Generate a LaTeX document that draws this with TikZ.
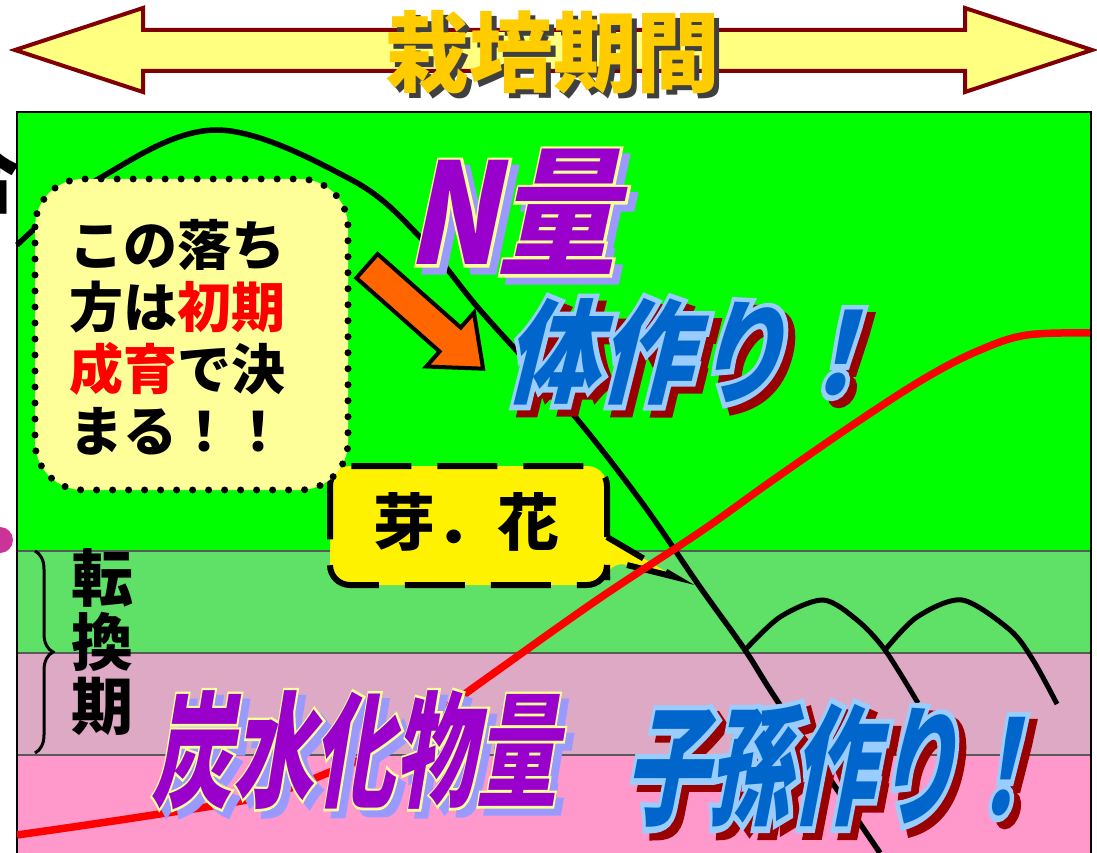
\documentclass[tikz,border=0pt]{standalone}
\usepackage{fontspec}
\newfontfamily\jpfont{Noto Sans CJK JP}
\newfontfamily\jpwide{Noto Sans CJK JP}[FakeBold=9,BoldFeatures={FakeBold=9}]
\newfontfamily\jpslim{Noto Sans CJK JP}[FakeBold=4,BoldFeatures={FakeBold=4}]
\usetikzlibrary{calc,decorations.pathreplacing}

\definecolor{leaf}{HTML}{00FF00}
\definecolor{paleleaf}{HTML}{5FE066}
\definecolor{mauve}{HTML}{DDA9C5}
\definecolor{blossom}{HTML}{FF99CC}
\definecolor{cream}{HTML}{FFFF99}
\definecolor{lemon}{HTML}{FFFF80}
\definecolor{maroon}{HTML}{800000}
\definecolor{gold}{HTML}{FFCC00}
\definecolor{violet}{HTML}{9900CC}
\definecolor{lilac}{HTML}{9999FF}
\definecolor{rim}{HTML}{FFFF99}
\definecolor{ocean}{HTML}{0066CC}
\definecolor{sky}{HTML}{99CCFF}
\definecolor{wine}{HTML}{990000}
\definecolor{carrot}{HTML}{FF6600}
\definecolor{orchid}{HTML}{CC3399}

\tikzset{
  word/.style={inner sep=0pt,font=\jpfont\bfseries\fontsize{#1}{#1}\selectfont},
  notetext/.style={inner sep=0pt,align=left,font=\jpfont\bfseries\fontsize{54}{62}\selectfont},
  band/.style={draw=black!65,line width=1.2pt},
}

% #1 name, #2 place, #3 size, #4 slant, #5 fill, #6 rim, #7 shadow, #8 rim font, #9 text
\newcommand\fancyword[9]{%
  \node[inner sep=0pt,#4,text=#7,font=#8\bfseries\fontsize{#3}{#3}\selectfont] at ($(#2)+(7,7)$) {#9};
  \node[inner sep=0pt,#4,text=#6,font=#8\bfseries\fontsize{#3}{#3}\selectfont] at (#2) {#9};
  \node[word=#3,#4,text=#5] (#1) at (#2) {#9};}

\begin{document}
\begin{tikzpicture}[x=1pt,y=-1pt]
	\useasboundingbox (0,0) rectangle (1097,853);
	\fill[white] (0,0) rectangle (1097,853);
	% growth stages
	\fill[leaf] (17,112) rectangle (1091,551);
	\fill[paleleaf] (17,551) rectangle (1091,653);
	\fill[mauve] (17,653) rectangle (1091,755);
	\fill[blossom] (17,755) rectangle (1091,860);
	\draw[band] (17,551) -- (1091,551) (17,653) -- (1091,653) (17,755) -- (1091,755);
	\draw[line width=2pt] (17,870) -- (17,112) -- (1091,112) -- (1091,870);

	\begin{scope}
		\clip (0,100) rectangle (15,600);
		\node[word=80,text=black] (cut) at (-19,176) {合};
		\fill[orchid] (0,540) circle (13);
	\end{scope}

	\draw[fill=yellow,line width=6pt,dash pattern=on 60pt off 26pt] (607,537) [rounded corners=20] -- (607,466) -- (330,466) -- (330,585) -- (607,585) -- (607,560) [sharp corners] -- (675,577) -- cycle;
	\node[word=62] (bud) at (466,522) {芽．花};

	\draw[line width=5.5pt] plot[smooth,tension=.6] coordinates {(17,245) (100,178) (217,130) (350,179) (420,237) (480,310) (567,407) (640,500) (700,587) (745,650) (780,705) (880,853)};
	\draw[red,line width=7.5pt] plot[smooth,tension=.6] coordinates {(17,835) (140,817) (260,797) (330,772) (400,740) (480,683) (597,600) (700,532) (773,480) (860,420) (927,377) (980,350) (1027,335) (1090,333)};
	\draw[line width=5pt] plot[smooth] coordinates {(745,650) (780,617) (823,600) (857,620) (885,650) (918,703)};
	\draw[line width=5pt] plot[smooth] coordinates {(885,650) (917,617) (962,600) (1010,630) (1033,660) (1057,704)};

	\draw[fill=cream,line width=7pt,line cap=round,dash pattern=on 0pt off 16pt,rounded corners=48] (35,179) rectangle (348,490);
	\begin{scope}[shift={(367,266)},rotate=-41.5]
		\draw[fill=carrot,line width=4pt] (0,-16) -- (111,-16) -- (111,-36) -- (155,0) -- (111,36) -- (111,16) -- (0,16) -- cycle;
	\end{scope}
	\node[notetext] (note) at (177,337) {この落ち\\方は\textcolor{red}{初期}\\\textcolor{red}{成育}で決\\まる！！};

	\fancyword{nitro}{523,212}{140}{xscale=.85,xslant=.25}{violet}{rim}{lilac}{\jpslim}{N量}
	\fancyword{body}{703,352}{113}{xscale=.83,xslant=.3}{ocean}{sky}{wine}{\jpwide}{体作り！}
	\fancyword{carbo}{362,750}{125}{xscale=.65,xslant=.25}{violet}{rim}{lilac}{\jpslim}{炭水化物量}
	\fancyword{seed}{842,766}{130}{xscale=.64,xslant=.3}{ocean}{sky}{wine}{\jpwide}{子孫作り！}

	\draw[line width=3pt,decorate,decoration={brace,amplitude=18pt}] (35,551) -- (35,753);
	\node[inner sep=0pt,align=center,font=\jpfont\bfseries\fontsize{62}{64}\selectfont] (shift) at (102,642) {転\\換\\期};

	\draw[fill=lemon,draw=maroon,line width=4pt] (15,50) -- (143,8) -- (143,30) -- (965,30) -- (965,8) -- (1092,50) -- (965,92) -- (965,71) -- (143,71) -- (143,92) -- cycle;
	\node[word=88,xscale=.95,text=black!75] at (558,57) {栽培期間};
	\node[word=88,xscale=.95,text=gold] (term) at (553,52) {栽培期間};
\end{tikzpicture}
\end{document}
